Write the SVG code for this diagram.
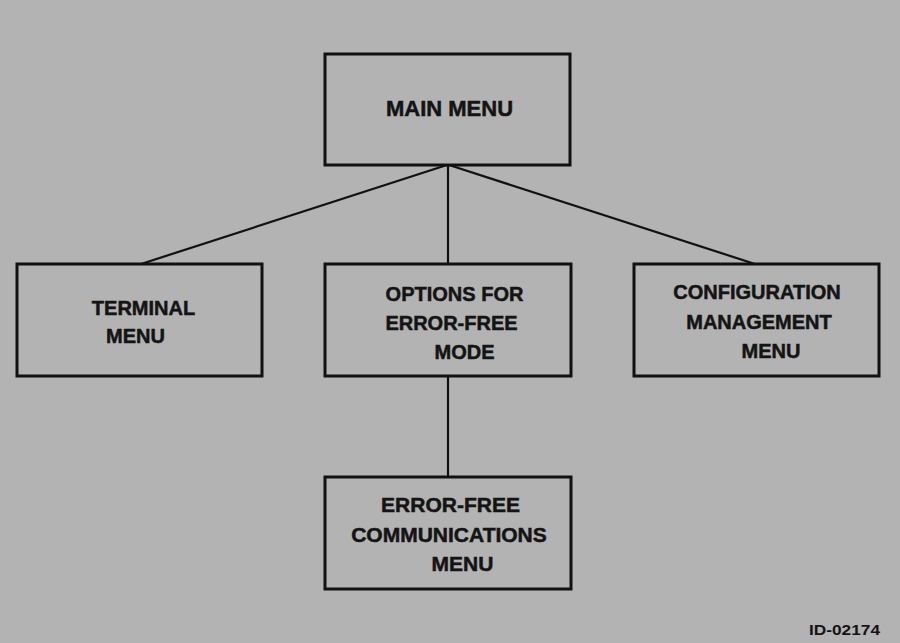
<svg xmlns="http://www.w3.org/2000/svg" width="900" height="643" viewBox="0 0 900 643">
<style>
.box{fill:none;stroke:#111;stroke-width:3}
.lbl{font-family:"Liberation Sans",Arial,sans-serif;font-weight:bold;font-size:20px;fill:#141414;stroke:#141414;stroke-width:0.5;text-anchor:middle}
.conn{stroke:#111;stroke-width:2.2;fill:none}
</style>
<rect width="900" height="643" fill="#b3b3b3"/>
<g id="connectors">
<line class="conn" x1="447" y1="165" x2="141" y2="264"/>
<line class="conn" x1="448" y1="165" x2="448" y2="264"/>
<line class="conn" x1="449" y1="165" x2="755" y2="264"/>
<line class="conn" x1="448" y1="376" x2="448" y2="477"/>
</g>
<g id="main-menu">
<rect class="box" x="325" y="54" width="245" height="111"/>
<text class="lbl" x="449.5" y="116" style="font-size:22px">MAIN MENU</text>
</g>
<g id="terminal-menu">
<rect class="box" x="17" y="264" width="245" height="112"/>
<text class="lbl" x="143.5" y="315">TERMINAL</text>
<text class="lbl" x="135.5" y="343">MENU</text>
</g>
<g id="options-error-free">
<rect class="box" x="325" y="264" width="246" height="112"/>
<text class="lbl" x="454.5" y="301">OPTIONS FOR</text>
<text class="lbl" x="451.5" y="330">ERROR-FREE</text>
<text class="lbl" x="464.5" y="359">MODE</text>
</g>
<g id="configuration-menu">
<rect class="box" x="634" y="264" width="245" height="112"/>
<text class="lbl" x="757" y="299">CONFIGURATION</text>
<text class="lbl" x="759" y="329">MANAGEMENT</text>
<text class="lbl" x="771" y="358">MENU</text>
</g>
<g id="error-free-comm-menu">
<rect class="box" x="325" y="477" width="246" height="112"/>
<text class="lbl" x="450.5" y="512" style="font-size:21px">ERROR-FREE</text>
<text class="lbl" x="449" y="542" style="font-size:21px">COMMUNICATIONS</text>
<text class="lbl" x="462.5" y="571" style="font-size:21px">MENU</text>
</g>
<text x="880" y="635" font-family="'Liberation Sans',Arial,sans-serif" font-weight="bold" font-size="14" fill="#141414" text-anchor="end" textLength="71" lengthAdjust="spacingAndGlyphs">ID-02174</text>
</svg>
